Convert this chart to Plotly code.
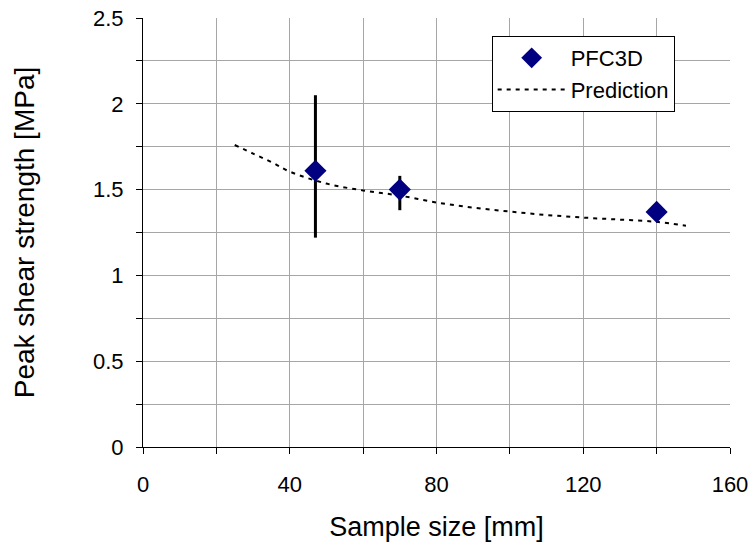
import plotly.graph_objects as go

# PFC3D simulation results
pfc_x = [47, 70, 140]
pfc_y = [1.61, 1.50, 1.37]
pfc_err_plus = [0.44, 0.08, 0.0]
pfc_err_minus = [0.39, 0.12, 0.0]

# Prediction curve
pred_x = [25, 30, 35, 40, 50, 60, 70, 80, 90, 100, 110, 120, 130, 140, 148]
pred_y = [1.76, 1.71, 1.66, 1.605, 1.535, 1.495, 1.465, 1.425, 1.395, 1.372, 1.352, 1.337, 1.325, 1.312, 1.29]

font_family = "Liberation Sans, Arial, sans-serif"

fig = go.Figure()
fig.add_trace(go.Scatter(
    x=pred_x, y=pred_y, mode="lines", name="Prediction",
    line=dict(color="black", width=2, dash="4px,5px", shape="spline"),
))
fig.add_trace(go.Scatter(
    x=pfc_x, y=pfc_y, mode="markers", name="PFC3D",
    marker=dict(symbol="diamond", size=17, color="#000080"),
    error_y=dict(type="data", symmetric=False, array=pfc_err_plus,
                 arrayminus=pfc_err_minus, color="black", thickness=3, width=0),
))

fig.update_layout(
    width=752, height=542,
    margin=dict(l=143, r=22, t=18, b=95),
    paper_bgcolor="white", plot_bgcolor="white",
    font=dict(family=font_family, size=20, color="black"),
    showlegend=True,
    legend=dict(x=0.594, y=0.958, xanchor="left", yanchor="top",
                bordercolor="black", borderwidth=1, bgcolor="white",
                font=dict(size=22), traceorder="reversed",
                itemwidth=68),
)
fig.update_xaxes(
    range=[0, 160], dtick=40, tick0=0, automargin=False,
    showline=True, linecolor="black", linewidth=1,
    ticks="outside", ticklen=6, tickcolor="black",
    ticklabelstandoff=12,
    showgrid=True, gridcolor="#a6a6a6", gridwidth=1,
    minor=dict(dtick=20, ticks="outside", ticklen=6, tickcolor="black",
               showgrid=True, gridcolor="#a6a6a6", gridwidth=1),
    zeroline=False,
    title=dict(text="Sample size [mm]", font=dict(size=27), standoff=20),
    tickfont=dict(size=22),
)
fig.update_yaxes(
    range=[0, 2.5], dtick=0.5, tick0=0, automargin=False,
    showline=True, linecolor="black", linewidth=1,
    ticks="outside", ticklen=6, tickcolor="black",
    ticklabelstandoff=8,
    showgrid=True, gridcolor="#a6a6a6", gridwidth=1,
    minor=dict(dtick=0.25, ticks="outside", ticklen=6, tickcolor="black",
               showgrid=True, gridcolor="#a6a6a6", gridwidth=1),
    zeroline=False,
    title=dict(text="Peak shear strength [MPa]", font=dict(size=28), standoff=50),
    tickfont=dict(size=22),
)

fig.write_html("out.html")
